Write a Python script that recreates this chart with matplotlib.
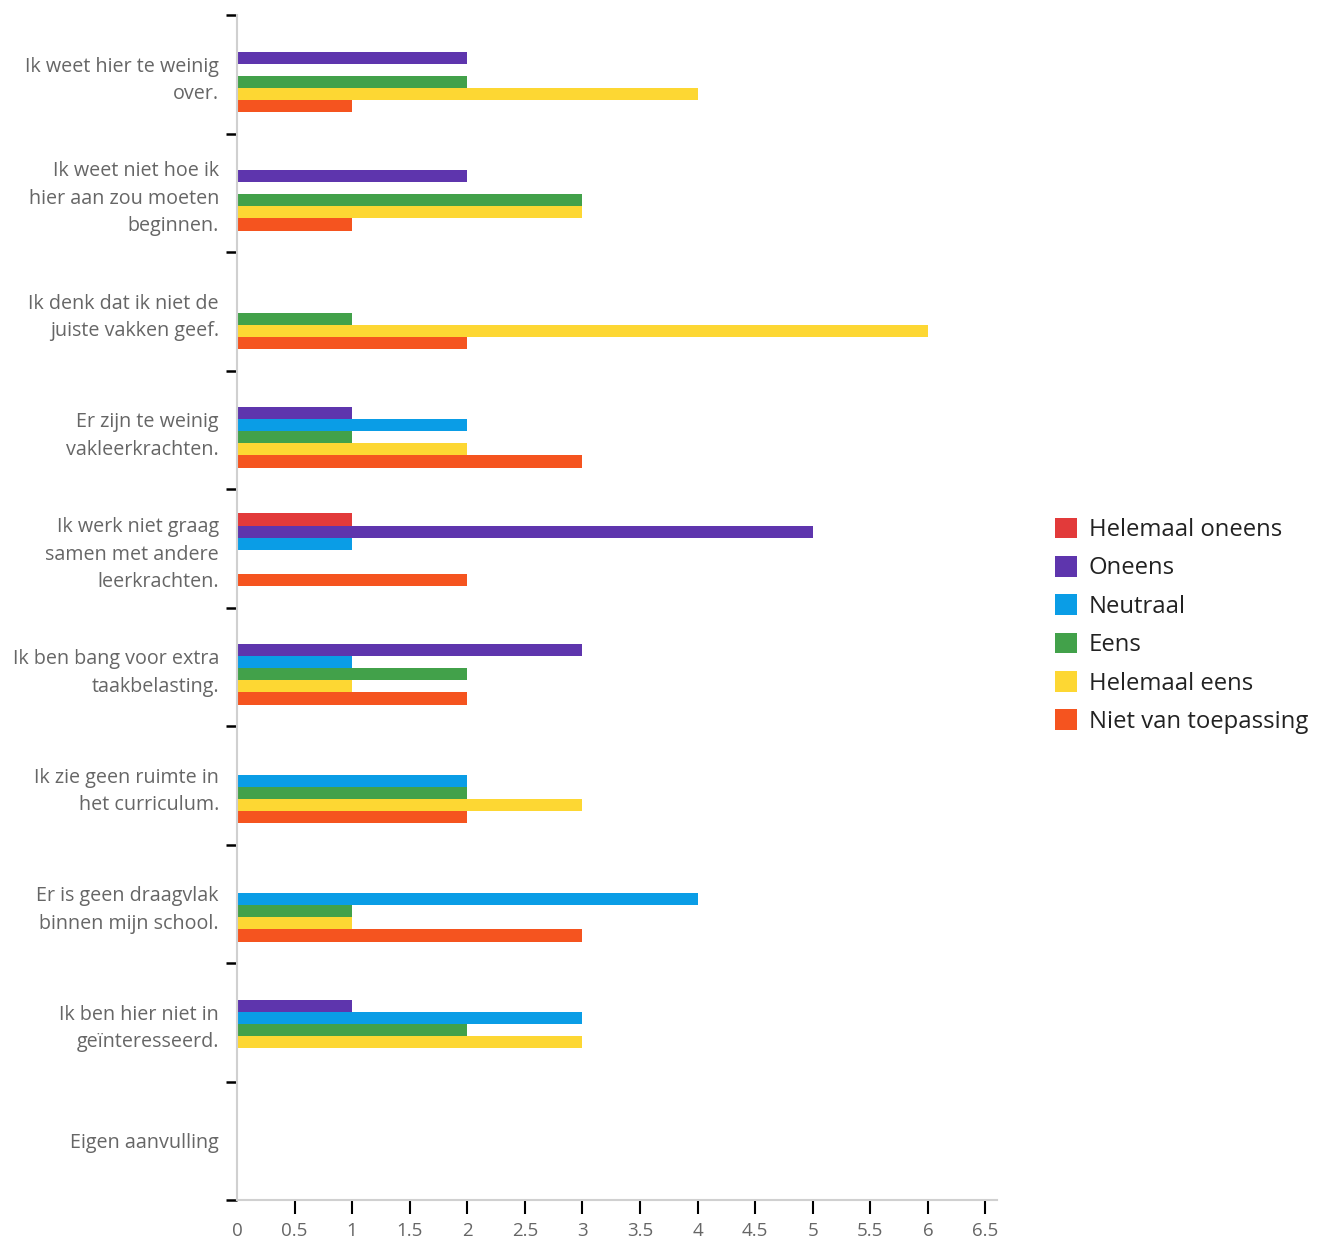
import matplotlib
matplotlib.use("Agg")
import matplotlib.pyplot as plt
import numpy as np

categories = [
    "Ik weet hier te weinig\nover.",
    "Ik weet niet hoe ik\nhier aan zou moeten\nbeginnen.",
    "Ik denk dat ik niet de\njuiste vakken geef.",
    "Er zijn te weinig\nvakleerkrachten.",
    "Ik werk niet graag\nsamen met andere\nleerkrachten.",
    "Ik ben bang voor extra\ntaakbelasting.",
    "Ik zie geen ruimte in\nhet curriculum.",
    "Er is geen draagvlak\nbinnen mijn school.",
    "Ik ben hier niet in\ngeïnteresseerd.",
    "Eigen aanvulling",
]
series_names = ["Helemaal oneens", "Oneens", "Neutraal", "Eens", "Helemaal eens", "Niet van toepassing"]
helemaal_oneens = [0, 0, 0, 0, 1, 0, 0, 0, 0, 0]
oneens          = [2, 2, 0, 1, 5, 3, 0, 0, 1, 0]
neutraal        = [0, 0, 0, 2, 1, 1, 2, 4, 3, 0]
eens            = [2, 3, 1, 1, 0, 2, 2, 1, 2, 0]
helemaal_eens   = [4, 3, 6, 2, 0, 1, 3, 1, 3, 0]
niet_vt         = [1, 1, 2, 3, 2, 2, 2, 3, 0, 0]
series = [helemaal_oneens, oneens, neutraal, eens, helemaal_eens, niet_vt]
colors = ["#e23a3a", "#5e35ad", "#0a9de6", "#42a14a", "#fdd733", "#f5541f"]
xticks = [0, 0.5, 1, 1.5, 2, 2.5, 3, 3.5, 4, 4.5, 5, 5.5, 6, 6.5]

plt.rcParams['font.family'] = ['Open Sans', 'DejaVu Sans']

W, H = 1323, 1239
fig = plt.figure(figsize=(W/100, H/100), dpi=100)
ax = fig.add_axes([237/W, 1 - 1200/H, (997-237)/W, (1200-15)/H])

n = len(categories)
y = np.arange(n)
band = (1200 - 15) / n
h = 12.1 / band
shift = 1.5 / band
for j, (name, vals, c) in enumerate(zip(series_names, series, colors)):
    ax.barh(y + (j - 2.5)*h + shift, vals, height=h, color=c, label=name, linewidth=0)

ax.set_xlim(0, 6.6)
ax.set_ylim(n - 0.5, -0.5)
ax.set_yticks(np.arange(n + 1) - 0.5)
ax.set_yticklabels([])
ax.set_yticks(y, minor=True)
ax.set_yticklabels(categories, minor=True, fontsize=14.2, color="#666666",
                   ha="right", linespacing=1.5)
ax.tick_params(axis="y", which="major", length=8, width=1.8, color="black", direction="out")
ax.tick_params(axis="y", which="minor", length=0, pad=13)
ax.set_xticks(xticks)
ax.set_xticklabels([f"{t:g}" for t in xticks], fontsize=13.5, color="#666666")
ax.tick_params(axis="x", length=10, width=1.5, color="black", pad=6)
ax.xaxis.get_major_ticks()[0].tick1line.set_visible(False)

for s in ["top", "right"]:
    ax.spines[s].set_visible(False)
for s in ["left", "bottom"]:
    ax.spines[s].set_color("#d0d0d0")
    ax.spines[s].set_linewidth(1.5)

leg = fig.legend(loc="upper left", bbox_to_anchor=(1045/W, 1 - 508/H), frameon=False,
                 fontsize=17.2, handlelength=0.95, handleheight=0.95, handletextpad=0.48,
                 labelspacing=0.58, borderaxespad=0)
for t in leg.get_texts():
    t.set_color("#222222")

fig.savefig("out.png", dpi=100)
